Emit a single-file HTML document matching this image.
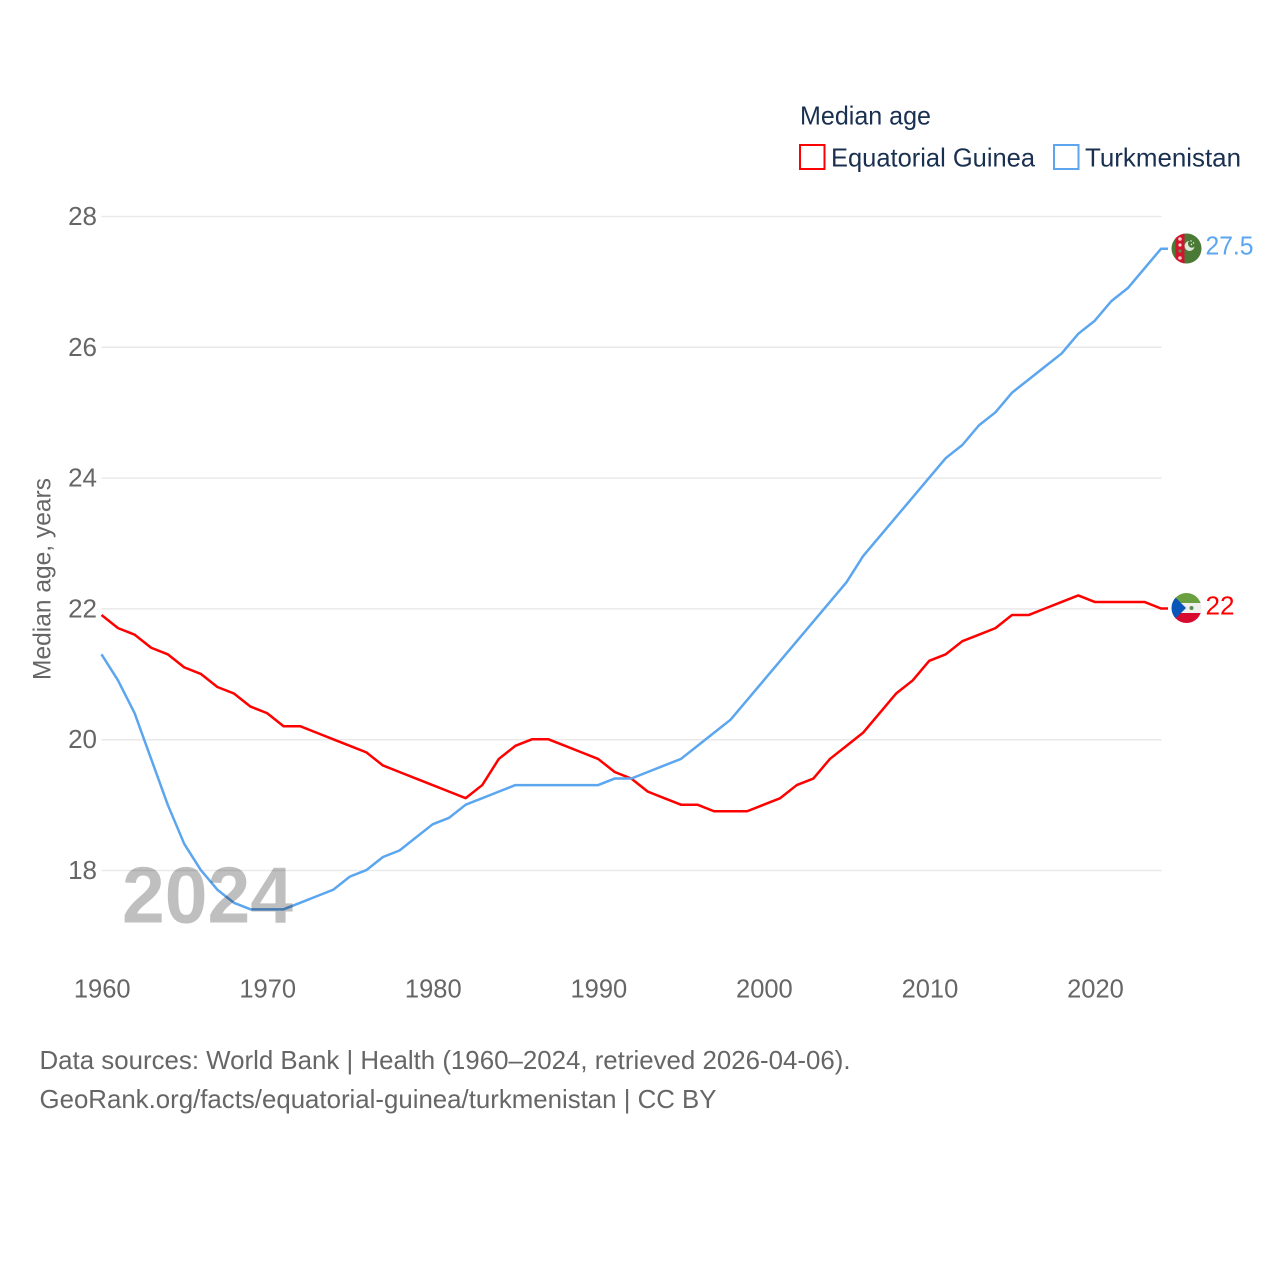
<!DOCTYPE html>
<html lang="en">
<head>
<meta charset="utf-8">
<title>Median age: Equatorial Guinea and Turkmenistan</title>
<style>
html,body{margin:0;padding:0;background:#fff;}
svg{display:block;font-family:"Liberation Sans",sans-serif;}
</style>
</head>
<body>
<svg id="chart" xmlns="http://www.w3.org/2000/svg" width="1280" height="1280" viewBox="0 0 1280 1280">
  <rect width="1280" height="1280" fill="#fff"/>
  <g id="grid"></g>
  <g id="yticks"></g>
  <g id="xticks"></g>
  <text transform="translate(50.500,680) rotate(-90)" font-size="25" fill="#666" textLength="202" lengthAdjust="spacingAndGlyphs">Median age, years</text>

  <text x="800" y="124.500" font-size="26" fill="#1a3050" textLength="131" lengthAdjust="spacingAndGlyphs">Median age</text>
  <g>
    <rect x="800" y="145" width="24.500" height="24" fill="#fff" stroke="#ff0000" stroke-width="2"/>
    <text x="831" y="166.500" font-size="26" fill="#1a3050" textLength="204" lengthAdjust="spacingAndGlyphs">Equatorial Guinea</text>
  </g>
  <g>
    <rect x="1054" y="145" width="24.500" height="24" fill="#fff" stroke="#5ba6ee" stroke-width="2"/>
    <text x="1085" y="166.500" font-size="26" fill="#1a3050" textLength="156" lengthAdjust="spacingAndGlyphs">Turkmenistan</text>
  </g>

  <g id="series" transform="translate(0,-0.400)"></g>

  <text x="122" y="922.500" font-size="80" font-weight="700" fill="#000" fill-opacity="0.25" textLength="171" lengthAdjust="spacingAndGlyphs">2024</text>

  <defs>
    <clipPath id="clip-tm"><circle cx="1186.500" cy="248.500" r="15"/></clipPath>
    <clipPath id="clip-gq"><circle cx="1186.500" cy="608" r="15"/></clipPath>
  </defs>
  <g clip-path="url(#clip-tm)">
    <rect x="1171" y="233" width="31" height="31" fill="#4a7a35"/>
    <rect x="1175.500" y="233" width="9" height="31" fill="#d2152f"/>
    <circle cx="1180" cy="239" r="1.800" fill="#f2c6c6"/>
    <circle cx="1180" cy="245" r="1.600" fill="#e8e0d0"/>
    <circle cx="1180" cy="251" r="1.600" fill="#5f8a4a"/>
    <circle cx="1180" cy="258" r="1.800" fill="#f2c6c6"/>
    <path d="M1189 241a5 5 0 1 0 5.500 5.500a4.200 4.200 0 0 1 -1.500 1a4 4 0 0 1 -4 -6.500z" fill="#dfe8d8"/>
    <circle cx="1191" cy="241" r="0.700" fill="#fff"/>
    <circle cx="1193.500" cy="243" r="0.700" fill="#fff"/>
    <circle cx="1191.500" cy="244.500" r="0.700" fill="#fff"/>
  </g>
  <g clip-path="url(#clip-gq)">
    <rect x="1171" y="593" width="31" height="10" fill="#6aa040"/>
    <rect x="1171" y="603" width="31" height="11" fill="#efefef"/>
    <rect x="1171" y="613" width="31" height="11" fill="#d8092f"/>
    <path d="M1171 593L1186 608L1171 623z" fill="#0a55b8"/>
    <circle cx="1191.500" cy="608" r="2" fill="#5a8a50"/>
  </g>

  <text id="label-tm" x="1205.500" y="254.500" font-size="26" fill="#5ba6ee" textLength="48" lengthAdjust="spacingAndGlyphs">27.5</text>
  <text id="label-gq" x="1205.500" y="614.500" font-size="26" fill="#ff0000" textLength="29" lengthAdjust="spacingAndGlyphs">22</text>

  <text x="39.500" y="1069" font-size="26" fill="#666" textLength="811" lengthAdjust="spacingAndGlyphs">Data sources: World Bank | Health (1960–2024, retrieved 2026-04-06).</text>
  <text x="39.500" y="1108" font-size="26" fill="#666" textLength="677" lengthAdjust="spacingAndGlyphs">GeoRank.org/facts/equatorial-guinea/turkmenistan | CC BY</text>
</svg>
<script>
const years = [1960,1961,1962,1963,1964,1965,1966,1967,1968,1969,1970,1971,1972,1973,1974,1975,1976,1977,1978,1979,1980,1981,1982,1983,1984,1985,1986,1987,1988,1989,1990,1991,1992,1993,1994,1995,1996,1997,1998,1999,2000,2001,2002,2003,2004,2005,2006,2007,2008,2009,2010,2011,2012,2013,2014,2015,2016,2017,2018,2019,2020,2021,2022,2023,2024];
const equatorialGuinea = [21.9,21.7,21.6,21.4,21.3,21.1,21.0,20.8,20.7,20.5,20.4,20.2,20.2,20.1,20.0,19.9,19.8,19.6,19.5,19.4,19.3,19.2,19.1,19.3,19.7,19.9,20.0,20.0,19.9,19.8,19.7,19.5,19.4,19.2,19.1,19.0,19.0,18.9,18.9,18.9,19.0,19.1,19.3,19.4,19.7,19.9,20.1,20.4,20.7,20.9,21.2,21.3,21.5,21.6,21.7,21.9,21.9,22.0,22.1,22.2,22.1,22.1,22.1,22.1,22.0];
const turkmenistan = [21.3,20.9,20.4,19.7,19.0,18.4,18.0,17.7,17.5,17.4,17.4,17.4,17.5,17.6,17.7,17.9,18.0,18.2,18.3,18.5,18.7,18.8,19.0,19.1,19.2,19.3,19.3,19.3,19.3,19.3,19.3,19.4,19.4,19.5,19.6,19.7,19.9,20.1,20.3,20.6,20.9,21.2,21.5,21.8,22.1,22.4,22.8,23.1,23.4,23.7,24.0,24.3,24.5,24.8,25.0,25.3,25.5,25.7,25.9,26.2,26.4,26.7,26.9,27.2,27.5];
const yTickValues = [18,20,22,24,26,28];
const xTickValues = [1960,1970,1980,1990,2000,2010,2020];

const SVG_NS = 'http://www.w3.org/2000/svg';
const xScale = function (year) { return 101.5 + (year - 1960) * (1161 - 101.5) / 64; };
const yScale = function (value) { return 870.5 - (value - 18) * 65.4; };

const grid = document.getElementById('grid');
const yticks = document.getElementById('yticks');
const xticks = document.getElementById('xticks');
const seriesGroup = document.getElementById('series');

yTickValues.forEach(function (value) {
  const line = document.createElementNS(SVG_NS, 'line');
  
  
  line.setAttribute('x1', 101.5);
  line.setAttribute('x2', 1161.5);
  line.setAttribute('y1', yScale(value));
  line.setAttribute('y2', yScale(value));
  line.setAttribute('stroke', '#e9e9e9');
  line.setAttribute('stroke-width', 1.5);
  grid.appendChild(line);

  const label = document.createElementNS(SVG_NS, 'text');
  
  
  label.setAttribute('x', 97);
  label.setAttribute('y', yScale(value) + 8.5);
  label.setAttribute('text-anchor', 'end');
  label.setAttribute('font-size', 26);
  label.setAttribute('fill', '#666');
  label.textContent = String(value);
  yticks.appendChild(label);
});

xTickValues.forEach(function (year) {
  const label = document.createElementNS(SVG_NS, 'text');
  
  
  label.setAttribute('x', xScale(year) + 0.7);
  label.setAttribute('y', 997.5);
  label.setAttribute('text-anchor', 'middle');
  label.setAttribute('font-size', 25.5);
  label.setAttribute('fill', '#666');
  label.textContent = String(year);
  xticks.appendChild(label);
});

function drawSeries(values, color) {
  const pts = values.map(function (value, i) {
    return xScale(years[i]).toFixed(2) + ',' + yScale(value).toFixed(2);
  });
  const last = values[values.length - 1];
  pts.push('1168,' + yScale(last).toFixed(2));
  const line = document.createElementNS(SVG_NS, 'polyline');
  line.setAttribute('points', pts.join(' '));
  line.setAttribute('fill', 'none');
  line.setAttribute('stroke', color);
  line.setAttribute('stroke-width', 2.5);
  line.setAttribute('stroke-linejoin', 'round');
  seriesGroup.appendChild(line);
  return line;
}

const lineGq = drawSeries(equatorialGuinea, '#ff0000');


const lineTm = drawSeries(turkmenistan, '#5ba6ee');


</script>
</body>
</html>
